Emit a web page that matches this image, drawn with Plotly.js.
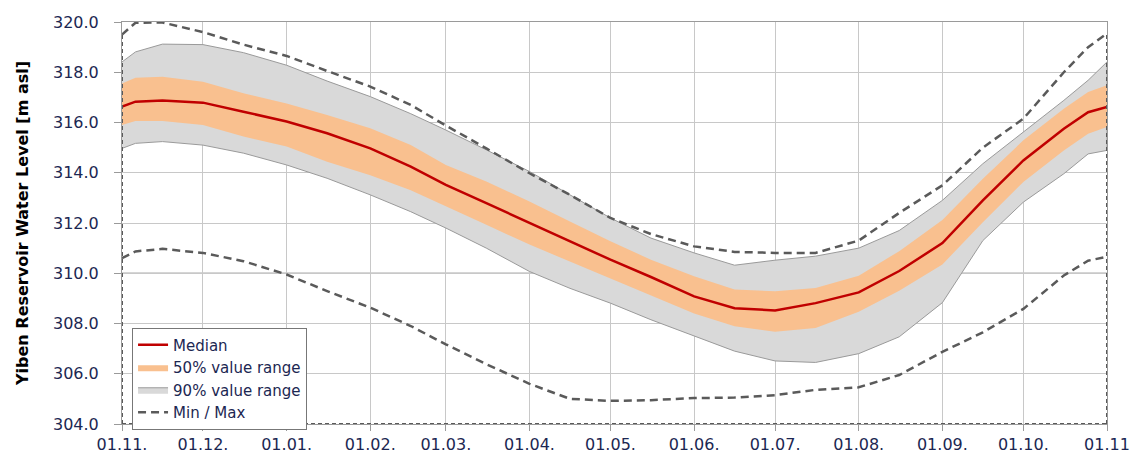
<!DOCTYPE html>
<html>
<head>
<meta charset="utf-8">
<script src="https://cdn.plot.ly/plotly-3.0.1.min.js"></script>
<style>html,body{margin:0;padding:0;background:#fff;}#chart{width:1139px;height:454px;}</style>
</head>
<body>
<div id="chart"></div>
<script>
// ---- data ----
const dates = ['2000-11-01','2000-11-06','2000-11-16','2000-12-01','2000-12-16','2001-01-01','2001-01-16','2001-02-01','2001-02-16','2001-03-01','2001-03-16','2001-04-01','2001-04-16','2001-05-01','2001-05-16','2001-06-01','2001-06-16','2001-07-01','2001-07-16','2001-08-01','2001-08-16','2001-09-01','2001-09-16','2001-10-01','2001-10-16','2001-10-25','2001-11-01'];
const median = [316.63,316.83,316.88,316.79,316.43,316.04,315.57,314.97,314.24,313.52,312.79,312.00,311.27,310.54,309.85,309.08,308.61,308.52,308.81,309.24,310.09,311.20,312.90,314.49,315.75,316.41,316.62];
const p50hi = [317.55,317.78,317.82,317.62,317.16,316.76,316.30,315.77,315.10,314.31,313.65,312.86,312.06,311.27,310.54,309.88,309.35,309.28,309.41,309.90,310.88,312.12,313.76,315.29,316.55,317.21,317.48];
const p50lo = [315.90,316.06,316.06,315.90,315.44,315.04,314.44,313.90,313.30,312.66,311.93,311.14,310.48,309.81,309.12,308.40,307.89,307.67,307.82,308.47,309.30,310.35,312.03,313.63,314.89,315.55,315.82];
const p90hi = [318.41,318.81,319.12,319.10,318.78,318.28,317.65,317.03,316.35,315.70,314.91,314.05,313.12,312.20,311.40,310.81,310.32,310.52,310.68,311.00,311.70,312.90,314.36,315.62,316.88,317.68,318.41];
const p90lo = [314.97,315.17,315.24,315.10,314.78,314.31,313.78,313.12,312.45,311.80,311.00,310.07,309.40,308.81,308.15,307.50,306.90,306.51,306.45,306.80,307.47,308.83,311.30,312.83,313.96,314.75,314.89];
const maxVals = [319.50,319.97,319.98,319.60,319.10,318.65,318.05,317.43,316.70,315.88,314.97,313.98,313.12,312.20,311.56,311.07,310.85,310.81,310.81,311.30,312.40,313.50,315.00,316.15,318.00,319.00,319.54];
const minVals = [310.60,310.87,310.97,310.81,310.48,309.95,309.29,308.63,307.90,307.17,306.38,305.60,305.00,304.92,304.95,305.03,305.05,305.15,305.36,305.46,305.95,306.87,307.65,308.58,309.91,310.50,310.66];
const tickDates = ['2000-11-01','2000-12-01','2001-01-01','2001-02-01','2001-03-01','2001-04-01','2001-05-01','2001-06-01','2001-07-01','2001-08-01','2001-09-01','2001-10-01','2001-11-01'];
const tickLabels = ['01.11.','01.12.','01.01.','01.02.','01.03.','01.04.','01.05.','01.06.','01.07.','01.08.','01.09.','01.10.','01.11'];
const yRange = [304, 320];
const refLevel = 310;
const legendNames = ['Median','50% value range','90% value range','Min / Max'];

// ---- chart ----
const band = (hi, lo) => ({x: dates.concat(dates.slice().reverse()), y: hi.concat(lo.slice().reverse())});
const b90 = band(p90hi, p90lo), b50 = band(p50hi, p50lo);
const dashColor = '#5a5a5a';
const traces = [
  {x: b90.x, y: b90.y, type: 'scatter', mode: 'lines', fill: 'toself', fillcolor: '#d9d9d9',
   line: {color: '#9a9a9a', width: 1}, name: legendNames[2], legendrank: 3, hoverinfo: 'skip'},
  {x: b50.x, y: b50.y, type: 'scatter', mode: 'lines', fill: 'toself', fillcolor: '#f9c08f',
   line: {color: 'rgba(0,0,0,0)', width: 0}, name: legendNames[1], legendrank: 2, hoverinfo: 'skip'},
  {x: dates, y: median, type: 'scatter', mode: 'lines', line: {color: '#c00000', width: 2.5},
   name: legendNames[0], legendrank: 1},
  {x: dates, y: maxVals, type: 'scatter', mode: 'lines', line: {color: dashColor, width: 2.5, dash: '8px,5px'},
   name: legendNames[3], legendrank: 4, legendgroup: 'mm'},
  {x: dates, y: minVals, type: 'scatter', mode: 'lines', line: {color: dashColor, width: 2.5, dash: '8px,5px'},
   name: legendNames[3], showlegend: false, legendgroup: 'mm'}
];
const n = dates.length - 1;
const shapes = [
  {type: 'line', xref: 'paper', x0: 0, x1: 1, yref: 'y', y0: refLevel, y1: refLevel, line: {color: '#555', width: 1}, layer: 'below'},
  {type: 'line', xref: 'x', yref: 'y', x0: dates[0], x1: dates[0], y0: yRange[0], y1: maxVals[0], line: {color: dashColor, width: 2, dash: '4px,3px'}},
  {type: 'line', xref: 'x', yref: 'y', x0: dates[n], x1: dates[n], y0: yRange[0], y1: maxVals[n], line: {color: dashColor, width: 2, dash: '4px,3px'}},
  {type: 'line', xref: 'x', yref: 'y', x0: dates[0], x1: dates[n], y0: yRange[0], y1: yRange[0], line: {color: dashColor, width: 2, dash: '4px,3px'}}
];
const tickFont = {family: 'DejaVu Sans, Arial, sans-serif', size: 16, color: '#1c2752'};
const layout = {
  width: 1139, height: 454,
  margin: {l: 122, r: 32, t: 22, b: 30},
  paper_bgcolor: '#fff', plot_bgcolor: '#fff',
  showlegend: true,
  legend: {x: 0.0102, y: 0.24, xanchor: 'left', yanchor: 'top', bgcolor: '#fff', bordercolor: '#777', borderwidth: 1,
           font: {family: 'DejaVu Sans, Arial, sans-serif', size: 15, color: '#1c2752'}, tracegroupgap: 0, itemwidth: 30},
  xaxis: {type: 'date', range: [dates[0], dates[n]], tickvals: tickDates, ticktext: tickLabels,
          showgrid: true, gridcolor: '#c8c8c8', gridwidth: 1, zeroline: false,
          showline: true, mirror: true, linecolor: '#9a9a9a', linewidth: 1,
          ticks: 'outside', ticklen: 6, tickcolor: '#9a9a9a', tickfont: tickFont},
  yaxis: {range: yRange, dtick: 2, tick0: 304, tickformat: '.1f',
          showgrid: true, gridcolor: '#c8c8c8', gridwidth: 1, zeroline: false,
          showline: true, mirror: true, linecolor: '#9a9a9a', linewidth: 1,
          ticks: 'outside', ticklen: 7, tickcolor: '#9a9a9a', tickfont: tickFont, ticklabelstandoff: 12,
          title: {text: 'Yiben Reservoir Water Level [m asl]', standoff: 20,
                  font: {family: 'DejaVu Sans, Arial, sans-serif', size: 16, color: '#000', weight: 'bold'}}},
  shapes: shapes
};
Plotly.newPlot('chart', traces, layout, {displayModeBar: false, staticPlot: true});
</script>
</body>
</html>
